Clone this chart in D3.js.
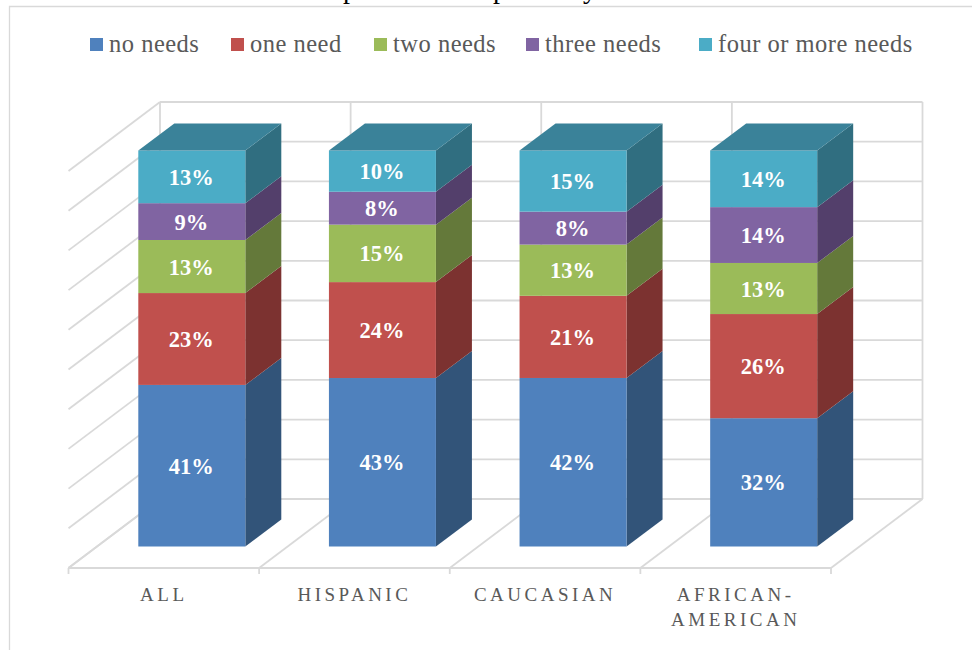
<!DOCTYPE html>
<html><head><meta charset="utf-8">
<script src="https://cdn.jsdelivr.net/npm/d3@7/dist/d3.min.js"></script>
<style>html,body{margin:0;padding:0;background:#fff}svg{display:block}</style>
</head><body><svg id="c" width="972" height="650"></svg>
<script>
const categories = ["ALL","HISPANIC","CAUCASIAN","AFRICAN-AMERICAN"];
const categoryLines = [["ALL"],["HISPANIC"],["CAUCASIAN"],["AFRICAN-","AMERICAN"]];
const seriesNames = ["no needs","one need","two needs","three needs","four or more needs"];
const noNeeds = [40.8,42.5,42.45,32.4];
const oneNeed = [23.2,24.2,20.7,26.3];
const twoNeeds = [13.4,14.5,12.9,12.9];
const threeNeeds = [9.3,8.3,8.3,14.1];
const fourPlus = [13.3,10.4,15.4,14.3];
const yTicks = [0,10,20,30,40,50,60,70,80,90,100];
const titleFragments = ["p","p","y"];
const colors = ["#4f81bd","#c0504d","#9bbb59","#8064a2","#4bacc6"];
const sideColors = ["#325479","#7c3230","#64793a","#533f6b","#306e80"];
const topColor = "#3a8299";

const svg = d3.select("#c");
const grid = "#d9d9d9";
const serif = "'Liberation Serif', serif";

// frame geometry
const frontL = 68.5, frontR = 831, floorFront = 568;
const dx = 91.5, dy = -69;           // wall depth
const barDx = 36, barDy = -27;       // bar depth
const barInset = 69.8, barW = 107;

const x = d3.scaleBand().domain(categories).range([frontL, frontR]);
const yBar = d3.scaleLinear().domain([0,100]).range([546.5,150.5]);
const yWall = d3.scaleLinear().domain([0,100]).range([floorFront+dy, 102]);

// chart area border
svg.append("path").attr("d","M9.5,650V6.5H972").attr("fill","none").attr("stroke",grid).attr("stroke-width",1.3);

// only the descenders of the title above the chart are visible in the reference
const titleX = [350,500,590];
titleFragments.forEach((t,i)=>{
  svg.append("text").attr("x",titleX[i]).attr("y",-2).attr("text-anchor","middle")
    .attr("font-family",serif).attr("font-size",28).attr("fill","#000").text(t);
});

// walls
const g = svg.append("g").attr("fill","none").attr("stroke",grid).attr("stroke-width",1.8);
yTicks.forEach(t=>{
  const yy = yWall(t);
  g.append("line").attr("x1",frontL+dx).attr("x2",frontR+dx).attr("y1",yy).attr("y2",yy);
  g.append("line").attr("x1",frontL).attr("x2",frontL+dx).attr("y1",yy-dy).attr("y2",yy);
});
const edges = categories.map(c=>x(c)).concat([frontR]);
edges.forEach(e=>{
  g.append("line").attr("x1",e+dx).attr("x2",e+dx).attr("y1",yWall(100)).attr("y2",yWall(0));
  g.append("line").attr("x1",e).attr("x2",e+dx).attr("y1",floorFront).attr("y2",yWall(0));
  g.append("line").attr("x1",e).attr("x2",e).attr("y1",floorFront).attr("y2",floorFront+6);
});
g.append("line").attr("x1",frontL).attr("x2",frontR).attr("y1",floorFront).attr("y2",floorFront);

// bars
const rows = categories.map((c,i)=>({cat:c,"no needs":noNeeds[i],"one need":oneNeed[i],"two needs":twoNeeds[i],"three needs":threeNeeds[i],"four or more needs":fourPlus[i]}));
const stack = d3.stack().keys(seriesNames).offset(d3.stackOffsetExpand)(rows);
const fmt = v => Math.round(v)+"%";
stack.forEach((s,si)=>{
  const gs = svg.append("g");
  s.forEach(d=>{
    const x0 = x(d.data.cat)+barInset, x1 = x0+barW;
    const y0 = yBar(d[0]*100), y1 = yBar(d[1]*100);
    gs.append("path").attr("fill",sideColors[si])
      .attr("d",`M${x1},${y0}L${x1+barDx},${y0+barDy}L${x1+barDx},${y1+barDy}L${x1},${y1}Z`);
    gs.append("rect").attr("x",x0).attr("y",y1).attr("width",barW).attr("height",y0-y1).attr("fill",colors[si]);
    if(si===seriesNames.length-1){
      gs.append("path").attr("fill",topColor)
        .attr("d",`M${x0},${y1}L${x0+barDx},${y1+barDy}L${x1+barDx},${y1+barDy}L${x1},${y1}Z`);
    }
  });
});
// data labels on top
stack.forEach(s=>{
  s.forEach(d=>{
    const x0 = x(d.data.cat)+barInset;
    const y0 = yBar(d[0]*100), y1 = yBar(d[1]*100);
    svg.append("text").attr("x",x0+barW/2-0.5).attr("y",(y0+y1)/2+8)
      .attr("text-anchor","middle").attr("font-family",serif).attr("font-weight","bold")
      .attr("font-size",22.5).attr("fill","#fff").text(fmt(d.data[s.key]));
  });
});

// category labels
categories.forEach((c,i)=>{
  const cx = x(c)+x.bandwidth()/2;
  categoryLines[i].forEach((ln,j)=>{
    svg.append("text").attr("x",cx).attr("y",601+j*25)
      .attr("text-anchor","middle").attr("font-family",serif)
      .attr("font-size",19).attr("letter-spacing",3.5).attr("fill","#595959").text(ln);
  });
});

// legend
const legendX = [90,231,374,526,699];
seriesNames.forEach((n,i)=>{
  svg.append("rect").attr("x",legendX[i]).attr("y",38).attr("width",13).attr("height",13).attr("fill",colors[i]);
  svg.append("text").attr("x",legendX[i]+19).attr("y",52).attr("font-family",serif)
    .attr("font-size",24.5).attr("letter-spacing",0.5).attr("fill","#595959").text(n);
});
</script></body></html>
